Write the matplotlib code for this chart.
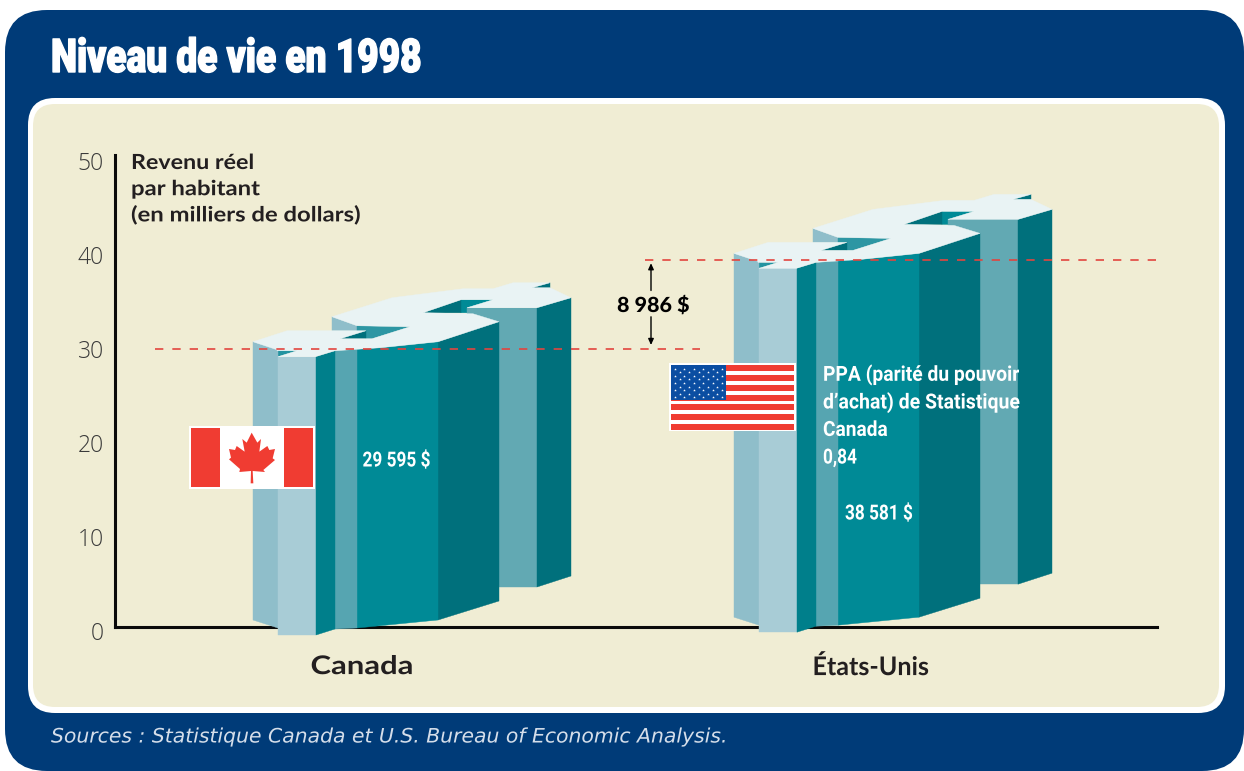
import matplotlib
matplotlib.use('Agg')
import matplotlib.pyplot as plt
from matplotlib.patches import FancyBboxPatch, Rectangle, Polygon
from matplotlib.transforms import ScaledTranslation, Affine2D
import matplotlib.patheffects as pe

# valeurs
categories = ['Canada', 'États-Unis']
bar_levels = [29.6, 39.0]      # hauteur du trait pointillé / des blocs
bar_bases = [0.0, 0.3]
y_ticks = [0, 10, 20, 30, 40, 50]
bar_labels = ['29 595 $', '38 581 $']
gap_label = '8 986 $'
title = 'Niveau de vie en 1998'
y_title = ['Revenu réel', 'par habitant', '(en milliers de dollars)']
ppa_lines = ['PPA (parité du pouvoir', 'd’achat) de Statistique', 'Canada', '0,84']
source = 'Sources : Statistique Canada et U.S. Bureau of Economic Analysis.'

W, H = 1244, 771
NAVY = '#003B78'
CREAM = '#F0EDD4'
PALE = '#E9F3F4'
WALL_BACK = '#8FBECA'
WALL_FRONT = '#A8CCD6'
TEAL = '#008A96'
TEAL_DARK = '#00707C'
TEAL_MID = '#007F8B'
STRIP = '#56A5B1'
TOWER = '#62A9B3'
RED = '#F03C32'
DASH = '#E2453F'
SANS = 'Roboto'

x_block = [253, 734]   # bord gauche de chaque bloc
x_center = [362, 871]
label_width = [103, 117]
PX = 9.4               # pixels par millier de dollars

# formes du bloc : decalages en pixels, (haut) relatifs au niveau, (bas) relatifs a la base
notches = [
    (TEAL_DARK, [(279, -61), (297, -66), (297, -61)]),
    (TEAL, [(208, -49), (240, -49), (214, -41), (214, -36), (208, -36)]),
    (TEAL_DARK, [(170, -36), (208, -49), (208, -36)]),
    (WALL_BACK, [(79, -32), (104, -23), (104, -18), (79, -18)]),
    ('#2D96A3', [(104, -23), (157, -22), (119, -10), (113, -10), (113, -18), (104, -18)]),
    (TEAL_DARK, [(87, -10), (113, -18), (113, -10)]),
    ('#2393A0', [(24, 2), (44, 2), (24, 8)]),
]
walls = [
    (TOWER, [(214, -41), (284, -41)], [(284, -40), (214, -40)]),
    (TEAL_DARK, [(284, -41), (318, -51)], [(318, -51), (284, -40)]),
    (TEAL_DARK, [(185, -7), (246, -27)], [(246, -26), (185, -7)]),
    (TEAL, [(104, 0), (127, -1), (185, -7)], [(185, -7), (104, 1)]),
    (STRIP, [(82, 2), (104, 0)], [(104, 1), (82, 2)]),
    (WALL_BACK, [(0, -7), (25, 1)], [(25, 1), (0, -7)]),
    (WALL_FRONT, [(25, 8), (63, 8)], [(63, 8), (25, 8)]),
    (TEAL_MID, [(63, 8), (82, 2)], [(82, 2), (63, 8)]),
]
top_face = [(0, -7), (34, -18), (113, -18), (87, -10), (119, -10), (157, -22), (104, -23),
            (79, -32), (139, -51), (210, -60), (240, -60), (260, -66), (297, -66), (279, -61),
            (297, -61), (318, -51), (284, -41), (214, -41), (240, -49), (208, -49), (170, -36),
            (220, -35), (246, -27), (185, -7), (127, -1), (82, 2), (62, 8), (25, 8), (44, 2),
            (24, 2), (24, 1)]


class Fit(pe.AbstractPathEffect):
    # etire le texte en largeur autour de son origine (la police etroite n'est pas installee)
    def __init__(self, sx, stroke=0):
        super().__init__()
        self.sx = sx
        self.stroke = stroke

    def draw_path(self, renderer, gc, tpath, affine, rgbFace=None):
        gc0 = renderer.new_gc()
        gc0.copy_properties(gc)
        if self.stroke:
            gc0.set_linewidth(self.stroke)
            gc0.set_foreground(rgbFace)
        renderer.draw_path(gc0, tpath, Affine2D().scale(self.sx, 1) + affine, rgbFace)
        gc0.restore()


fig = plt.figure(figsize=(W / 100, H / 100), dpi=100, facecolor='white')
rend = fig.canvas.get_renderer()

# fond : cadre bleu et panneau creme
bg = fig.add_axes([0, 0, 1, 1], zorder=0)
bg.set_xlim(0, W)
bg.set_ylim(H, 0)
bg.axis('off')
bg.add_patch(FancyBboxPatch((5, 10), 1239, 761, boxstyle='round,pad=0,rounding_size=42', fc=NAVY, ec='none'))
bg.add_patch(FancyBboxPatch((28, 98), 1197, 615, boxstyle='round,pad=0,rounding_size=27', fc='white', ec='none'))
bg.add_patch(FancyBboxPatch((33, 104), 1186, 603, boxstyle='round,pad=0,rounding_size=22', fc=CREAM, ec='none'))

# graphique
ax = fig.add_axes([115 / W, (H - 627) / H, (1157 - 115) / W, (627 - 155) / H], zorder=1)
ax.patch.set_alpha(0)
ax.set_xlim(115, 1157)
ax.set_ylim(0, 472 / PX)
for s in ['top', 'right']:
    ax.spines[s].set_visible(False)
for s in ['left', 'bottom']:
    ax.spines[s].set_linewidth(2.2)
    ax.spines[s].set_color('#0A0A0A')
ax.set_yticks(y_ticks)
ax.tick_params(axis='y', length=0, pad=8, labelsize=16.5, labelcolor='#3A3A3A')
ax.set_xticks(x_center)
ax.set_xticklabels(categories, fontfamily='Lato', fontweight='bold', fontsize=18.5, color='#231F20')
ax.tick_params(axis='x', length=0, pad=19.5)
for lab in ax.get_yticklabels():
    lab.set_fontfamily('Open Sans')
    lab.set_fontweight('light')
    lab.set_transform(lab.get_transform() + ScaledTranslation(0, -4 / 100, fig.dpi_scale_trans))
for lab, w in zip(ax.get_xticklabels(), label_width):
    lab.set_path_effects([Fit(w / lab.get_window_extent(rend).width)])
    lab.set_ha('left')
    lab.set_transform(lab.get_transform() + ScaledTranslation(-w / 200, 0, fig.dpi_scale_trans))


def block(x0, level, base):
    def top(p):
        return (x0 + p[0], level - p[1] / PX)
    def bot(p):
        return (x0 + p[0], base - p[1] / PX)
    for color, pts in notches:
        ax.add_patch(Polygon([top(p) for p in pts], fc=color, ec=color, lw=0.3, zorder=3, clip_on=False))
    for color, upper, lower in walls:
        ax.add_patch(Polygon([top(p) for p in upper] + [bot(p) for p in lower], fc=color, ec=color,
                             lw=0.3, zorder=3, clip_on=False))
    ax.add_patch(Polygon([top(p) for p in top_face], fc=PALE, ec=PALE, lw=0.3, zorder=4, clip_on=False))


for i in range(len(categories)):
    block(x_block[i], bar_levels[i], bar_bases[i])

# pointilles et fleches
dash_style = (0, (5, 5.4))
ax.hlines(bar_levels[0], 155, 700, color=DASH, lw=1.2, linestyles=[dash_style], zorder=6, clip_on=False)
ax.hlines(bar_levels[1], 645, 1160, color=DASH, lw=1.2, linestyles=[dash_style], zorder=6, clip_on=False)
mid = (bar_levels[0] + bar_levels[1]) / 2
arrow = dict(arrowstyle='-|>,head_length=0.35,head_width=0.16', color='black', lw=1, shrinkA=0, shrinkB=0)
ax.annotate('', xy=(651, bar_levels[1] - 0.3), xytext=(651, mid + 1.5), arrowprops=arrow)
ax.annotate('', xy=(651, bar_levels[0] + 0.4), xytext=(651, mid - 1.3), arrowprops=arrow)

# textes et drapeaux, en pixels
ov = fig.add_axes([0, 0, 1, 1], zorder=2)
ov.patch.set_alpha(0)
ov.set_xlim(0, W)
ov.set_ylim(H, 0)
ov.axis('off')


def fit_text(x, y, s, width, stroke=0, **kw):
    t = ov.text(x, y, s, va='center', **kw)
    t.set_path_effects([Fit(width / t.get_window_extent(rend).width, stroke)])
    return t


fit_text(51, 59, title, 371, stroke=1.0, fontfamily=SANS, fontweight='black', fontsize=33.5, color='white')
for i, (line, w) in enumerate(zip(y_title, [124, 129, 231])):
    fit_text(131, 163 + i * 26.2, line, w, fontfamily='Lato', fontweight='bold', fontsize=15, color='#231F20')
fit_text(617, 305, gap_label, 73, fontfamily='Lato', fontweight='black', fontsize=15, color='black')
fit_text(362.5, 461, bar_labels[0], 68, fontfamily=SANS, fontweight='bold', fontsize=15, color='white')
fit_text(845, 514, bar_labels[1], 68, fontfamily=SANS, fontweight='bold', fontsize=15, color='white')
for i, (line, w) in enumerate(zip(ppa_lines, [197, 198, 65, 34])):
    fit_text(823, 375 + i * 27.7, line, w, fontfamily=SANS, fontweight='bold', fontsize=15, color='white')
fit_text(51, 737, source, 677, fontfamily='DejaVu Sans', style='italic', fontsize=14.3, color='#D5DEEA')

# drapeau canadien
ov.add_patch(Rectangle((189, 426), 126, 63, fc='white', ec='none', zorder=5))
ov.add_patch(Rectangle((191, 428), 29, 59, fc=RED, ec='none', zorder=6))
ov.add_patch(Rectangle((284, 428), 29, 59, fc=RED, ec='none', zorder=6))
leaf = [(215, 488), (232, 518), (243, 507), (238, 545), (262, 528), (268, 540), (285, 537), (278, 565),
        (285, 570), (250, 600), (255, 606), (218, 603), (220, 640), (212, 640), (213, 603), (178, 606),
        (180, 597), (147, 568), (153, 563), (147, 537), (165, 540), (170, 528), (194, 545), (187, 507),
        (200, 518)]
ov.add_patch(Polygon([(180 + x / 3, 270 + y / 3) for x, y in leaf], fc=RED, ec='none', zorder=7))

# drapeau americain
ov.add_patch(Rectangle((669, 363), 127, 68, fc='white', ec='none', zorder=5))
for i in range(7):
    ov.add_patch(Rectangle((671, 365 + i * 9.85), 123, 6, fc=RED, ec='none', zorder=6))
ov.add_patch(Rectangle((671, 365), 55, 35, fc='#0B4EA2', ec='none', zorder=7))
star_x, star_y = [], []
for r in range(9):
    n = 6 if r % 2 == 0 else 5
    for c in range(n):
        star_x.append(675 + c * 9.4 + (0 if r % 2 == 0 else 4.7))
        star_y.append(368.5 + r * 3.6)
ov.scatter(star_x, star_y, s=4, marker='*', color='white', linewidths=0, zorder=8)

fig.savefig('out.png', dpi=100)
